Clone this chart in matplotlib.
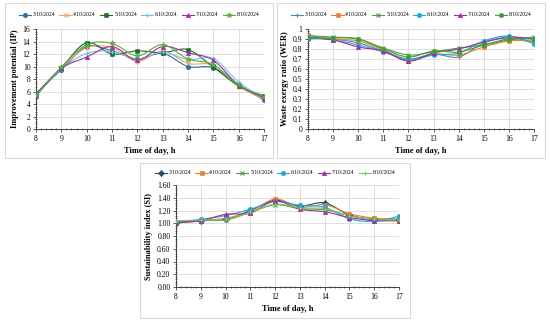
import numpy as np
import matplotlib
matplotlib.use("Agg")
import matplotlib.pyplot as plt
from matplotlib.path import Path
from matplotlib.patches import PathPatch, Rectangle
from matplotlib.lines import Line2D
import matplotlib.ticker as ticker

plt.rcParams["font.family"] = ["Liberation Serif", "DejaVu Serif"]

# ── Data ───────────────────────────────────────────────────────────────────
hours = [8, 9, 10, 11, 12, 13, 14, 15, 16, 17]
dates = ["3/10/2024", "4/10/2024", "5/10/2024", "6/10/2024", "7/10/2024", "8/10/2024"]

ip_values = [
    [5.7, 9.5, 13.2, 12.5, 11.2, 12.1, 10.0, 9.8, 7.1, 4.6],
    [5.4, 9.7, 13.0, 13.0, 10.8, 12.5, 10.5, 10.2, 6.8, 4.8],
    [5.3, 9.8, 13.8, 12.0, 12.5, 12.2, 12.7, 9.9, 6.9, 5.3],
    [5.5, 9.6, 12.1, 12.4, 11.2, 12.3, 11.1, 11.3, 7.5, 4.9],
    [5.6, 9.7, 11.5, 13.2, 11.0, 13.2, 12.2, 11.0, 7.0, 5.0],
    [5.4, 9.9, 13.5, 13.7, 11.7, 13.5, 11.2, 10.3, 7.0, 5.2],
]
wer_values = [
    [0.92, 0.90, 0.86, 0.78, 0.70, 0.75, 0.72, 0.86, 0.91, 0.87],
    [0.94, 0.90, 0.88, 0.79, 0.68, 0.75, 0.74, 0.82, 0.88, 0.88],
    [0.93, 0.92, 0.90, 0.81, 0.74, 0.77, 0.81, 0.84, 0.89, 0.92],
    [0.92, 0.89, 0.84, 0.77, 0.69, 0.74, 0.76, 0.88, 0.93, 0.85],
    [0.91, 0.89, 0.82, 0.78, 0.68, 0.76, 0.80, 0.87, 0.92, 0.90],
    [0.90, 0.91, 0.90, 0.80, 0.72, 0.78, 0.77, 0.84, 0.90, 0.90],
]
si_values = [
    [1.01, 1.04, 1.06, 1.20, 1.36, 1.27, 1.32, 1.13, 1.06, 1.05],
    [1.00, 1.04, 1.08, 1.18, 1.38, 1.25, 1.29, 1.15, 1.08, 1.07],
    [1.02, 1.05, 1.05, 1.17, 1.29, 1.23, 1.21, 1.12, 1.05, 1.05],
    [1.02, 1.06, 1.12, 1.22, 1.34, 1.28, 1.25, 1.07, 1.03, 1.11],
    [1.01, 1.04, 1.14, 1.16, 1.35, 1.22, 1.18, 1.09, 1.04, 1.04],
    [1.04, 1.05, 1.06, 1.17, 1.30, 1.24, 1.23, 1.12, 1.06, 1.05],
]

# ── Styles per panel ───────────────────────────────────────────────────────
ip_colors = ["#2F6EA5", "#F4A460", "#1E6B2A", "#6CC3EE", "#A22CA0", "#56B03A"]
ip_markers = ["o", "x", "s", "+", "^", "*"]
wer_colors = ["#4F81BD", "#ED7D31", "#4E9A4E", "#1FA6E0", "#A22CA0", "#3DA035"]
wer_markers = ["+", "s", "x", "o", "^", "o"]
si_colors = ["#1F4E79", "#ED7D31", "#4E9A4E", "#1FA6E0", "#A22CA0", "#7ACB50"]
si_markers = ["D", "s", "x", "o", "^", "+"]

W, H = 550, 322


def smooth_path(x, y):
    """Excel-like smooth line: Catmull-Rom segments as cubic Bezier."""
    x = np.asarray(x, float)
    y = np.asarray(y, float)
    n = len(x)
    verts = [(x[0], y[0])]
    codes = [Path.MOVETO]
    for i in range(n - 1):
        p0 = (x[max(i - 1, 0)], y[max(i - 1, 0)])
        p1 = (x[i], y[i])
        p2 = (x[i + 1], y[i + 1])
        p3 = (x[min(i + 2, n - 1)], y[min(i + 2, n - 1)])
        c1 = (p1[0] + (p2[0] - p0[0]) / 6, p1[1] + (p2[1] - p0[1]) / 6)
        c2 = (p2[0] - (p3[0] - p1[0]) / 6, p2[1] - (p3[1] - p1[1]) / 6)
        verts += [c1, c2, p2]
        codes += [Path.CURVE4] * 3
    return Path(verts, codes)


def draw_panel(fig, rect, box, legend_y, series, colors, markers, ylim, ystep,
               yfmt, ylabel):
    fig.add_artist(Rectangle((box[0] / W, 1 - box[3] / H),
                             (box[2] - box[0]) / W, (box[3] - box[1]) / H,
                             transform=fig.transFigure, fill=False,
                             edgecolor="#d9d9d9", linewidth=0.8))
    ax = fig.add_axes([rect[0] / W, 1 - rect[3] / H,
                       (rect[2] - rect[0]) / W, (rect[3] - rect[1]) / H])
    handles = []
    for vals, col, mk, lab in zip(series, colors, markers, dates):
        ax.add_patch(PathPatch(smooth_path(hours, vals), fill=False,
                               edgecolor=col, linewidth=0.8, zorder=3))
        hollow = mk in ("x", "+")
        ms = 4.2 if mk == "*" else 3.2
        mew = 0.8 if hollow else 0.4
        ax.plot(hours, vals, linestyle="none", marker=mk, color=col,
                markersize=ms, markeredgewidth=mew, zorder=4)
        handles.append(Line2D([], [], color=col, marker=mk, linewidth=0.8,
                              markersize=ms, markeredgewidth=mew, label=lab))
    ax.set_xlim(8, 17)
    ax.set_ylim(*ylim)
    ax.xaxis.set_major_locator(ticker.MultipleLocator(1))
    ax.xaxis.set_minor_locator(ticker.MultipleLocator(0.2))
    ax.yaxis.set_major_locator(ticker.MultipleLocator(ystep))
    ax.yaxis.set_minor_locator(ticker.MultipleLocator(ystep / 5))
    ax.yaxis.set_major_formatter(ticker.FuncFormatter(yfmt))
    ax.grid(True, which="major", color="#d9d9d9", linewidth=0.6)
    ax.set_axisbelow(True)
    for s in ("top", "right"):
        ax.spines[s].set_visible(False)
    for s in ("left", "bottom"):
        ax.spines[s].set_color("#404040")
        ax.spines[s].set_linewidth(0.7)
    ax.tick_params(which="major", labelsize=5.5, length=2, width=0.6,
                   direction="out", color="#404040", pad=2)
    ax.tick_params(which="minor", length=1.3, width=0.5, direction="inout",
                   color="#404040")
    ax.set_xlabel("Time of day, h", fontsize=6, fontweight="bold", labelpad=3)
    ax.set_ylabel(ylabel, fontsize=6, fontweight="bold", labelpad=3)
    fig.legend(handles=handles, loc="center",
               bbox_to_anchor=((box[0] + box[2]) / 2 / W, 1 - legend_y / H),
               bbox_transform=fig.transFigure,
               ncol=6, frameon=False, fontsize=4.0, handlelength=2.2,
               handletextpad=0.3, columnspacing=0.8, borderaxespad=0,
               borderpad=0)
    return ax


fig = plt.figure(figsize=(W / 100, H / 100), dpi=100)

draw_panel(fig, (36, 29, 264, 129), (5, 3, 273, 158), 15, ip_values, ip_colors,
           ip_markers, (0, 16), 2, lambda v, _: f"{v:.0f}",
           "Improvement potential (IP)")
draw_panel(fig, (308, 29, 534, 129), (277, 3, 545, 158), 15, wer_values,
           wer_colors, wer_markers, (0, 1), 0.1,
           lambda v, _: "0" if abs(v) < 1e-9 else ("1" if abs(v - 1) < 1e-9 else f"{v:.1f}"),
           "Waste exergy ratio (WER)")
draw_panel(fig, (176, 185, 399, 287), (140, 163, 410, 318), 173, si_values,
           si_colors, si_markers, (0, 1.6), 0.2, lambda v, _: f"{v:.2f}",
           "Sustainability index (SI)")

fig.savefig("out.png", dpi=100)
